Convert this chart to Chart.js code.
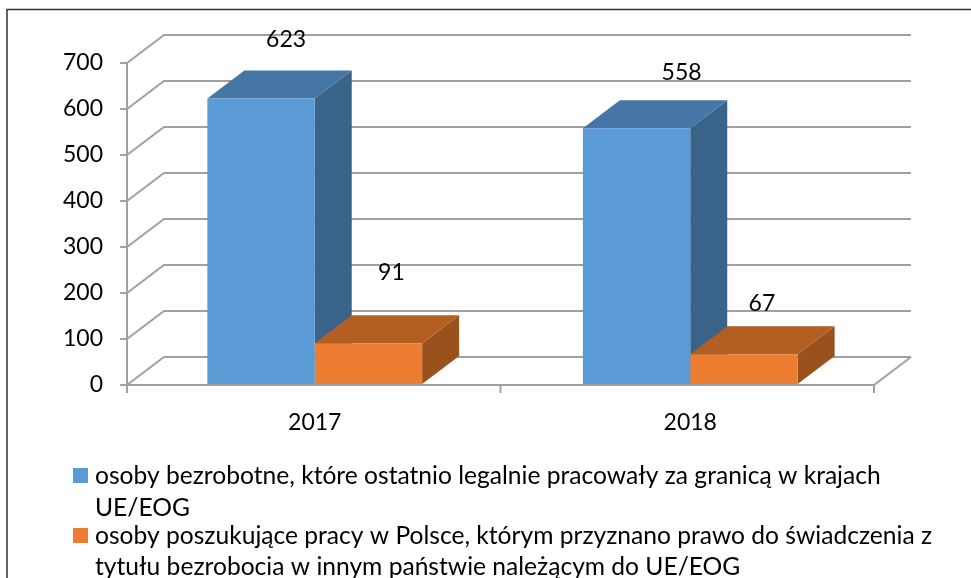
<!DOCTYPE html>
<html>
<head>
<meta charset="utf-8">
<style>html,body{margin:0;padding:0;background:#fff}#wrap{width:971px;height:578px;position:relative}</style>
<script src="https://cdn.jsdelivr.net/npm/chart.js@4"></script>
</head>
<body>
<div id="wrap"><canvas id="c" width="971" height="578"></canvas></div>
<script>
const categories = ['2017', '2018'];
const unemployedAbroad = [623, 558];
const jobSeekersBenefit = [91, 67];
const tickStep = 100;
const axisMax = 700;
const legendLines = [
  ['osoby bezrobotne, które ostatnio legalnie pracowały za granicą w krajach', 'UE/EOG'],
  ['osoby poszukujące pracy w Polsce, którym przyznano prawo do świadczenia z', 'tytułu bezrobocia w innym państwie należącym do UE/EOG']
];
const FONT = 'Lato, Carlito, sans-serif';
const depthX = 37, depthY = 28, axisInset = 4;
const gridColor = '#a0a0a0';
const faces = [
  {top: '#4676a5', side: '#3a6389'},
  {top: '#b35e22', side: '#9a521c'}
];
const labelOffsets = [[[25, -59], [45, -56]], [[23, -71], [18, -51]]];

const threeD = {
  id: 'threeD',
  beforeDatasetsDraw(chart) {
    const ctx = chart.ctx, y = chart.scales.y, x = chart.scales.x;
    const left = x.left, right = x.right - axisInset, base = y.getPixelForValue(0);
    ctx.save();
    ctx.strokeStyle = gridColor;
    ctx.lineWidth = 2;
    y.ticks.forEach(t => {
      const py = y.getPixelForValue(t.value);
      ctx.beginPath();
      ctx.moveTo(left, py);
      ctx.lineTo(left + depthX, py - depthY);
      ctx.lineTo(right + depthX, py - depthY);
      ctx.stroke();
    });
    ctx.beginPath();
    ctx.moveTo(right, base);
    ctx.lineTo(right + depthX, base - depthY);
    ctx.stroke();
    ctx.beginPath();
    ctx.moveTo(left - 7, base);
    ctx.lineTo(right, base);
    [left, (left + right) / 2, right].forEach(px => {
      ctx.moveTo(px, base);
      ctx.lineTo(px, base + 8);
    });
    ctx.stroke();
    [0, 1].forEach(di => {
      chart.getDatasetMeta(di).data.forEach(el => {
        const p = el.getProps(['x', 'y', 'base', 'width'], true);
        const l = p.x - p.width / 2, r = p.x + p.width / 2;
        ctx.fillStyle = faces[di].side;
        ctx.beginPath();
        ctx.moveTo(r, p.y);
        ctx.lineTo(r + depthX, p.y - depthY);
        ctx.lineTo(r + depthX, p.base - depthY);
        ctx.lineTo(r, p.base);
        ctx.closePath();
        ctx.fill();
        ctx.fillStyle = faces[di].top;
        ctx.beginPath();
        ctx.moveTo(l, p.y);
        ctx.lineTo(l + depthX, p.y - depthY);
        ctx.lineTo(r + depthX, p.y - depthY);
        ctx.lineTo(r, p.y);
        ctx.closePath();
        ctx.fill();
      });
    });
    ctx.restore();
  },
  afterDraw(chart) {
    const ctx = chart.ctx;
    ctx.save();
    ctx.fillStyle = '#000';
    ctx.font = '23px ' + FONT;
    ctx.textAlign = 'center';
    ctx.textBaseline = 'middle';
    [0, 1].forEach(di => {
      const ds = chart.data.datasets[di];
      chart.getDatasetMeta(di).data.forEach((el, i) => {
        const off = labelOffsets[di][i];
        ctx.fillText(String(ds.data[i]), el.x + off[0], el.y + off[1]);
      });
    });
    // frame
    ctx.strokeStyle = '#333';
    ctx.lineWidth = 1.5;
    ctx.beginPath();
    ctx.moveTo(7, 578);
    ctx.lineTo(7, 9.5);
    ctx.lineTo(971, 9.5);
    ctx.stroke();
    // legend
    ctx.textAlign = 'left';
    ctx.font = '24.6px ' + FONT;
    const rows = [[476, 508], [536, 567]];
    legendLines.forEach((lines, i) => {
      ctx.fillStyle = chart.data.datasets[i].backgroundColor;
      ctx.fillRect(73, rows[i][0] - 8, 15, 15);
      ctx.fillStyle = '#000';
      lines.forEach((ln, j) => ctx.fillText(ln, 95, rows[i][j]));
    });
    ctx.restore();
  }
};

new Chart(document.getElementById('c'), {
  type: 'bar',
  data: {
    labels: categories,
    datasets: [
      {label: legendLines[0].join(' '), data: unemployedAbroad, backgroundColor: '#5b9bd5', categoryPercentage: 0.572, barPercentage: 1},
      {label: legendLines[1].join(' '), data: jobSeekersBenefit, backgroundColor: '#ed7d31', categoryPercentage: 0.572, barPercentage: 1}
    ]
  },
  options: {
    responsive: false,
    animation: false,
    layout: {padding: {top: 63, right: 93, bottom: 0, left: 0}},
    plugins: {legend: {display: false}, tooltip: {enabled: false}, title: {display: false}},
    scales: {
      x: {
        grid: {display: false},
        border: {display: false},
        ticks: {color: '#000', font: {family: FONT, size: 23}, padding: 16, maxRotation: 0},
        afterFit(s) { s.height = 193; }
      },
      y: {
        min: 0, max: axisMax,
        afterFit(s) { s.width = 127; },
        border: {display: true, color: gridColor, width: 2},
        grid: {drawOnChartArea: false, drawTicks: true, tickLength: 7, color: gridColor, lineWidth: 2},
        ticks: {stepSize: tickStep, color: '#000', font: {family: FONT, size: 23}, padding: 17}
      }
    }
  },
  plugins: [threeD]
});
</script>
</body>
</html>
